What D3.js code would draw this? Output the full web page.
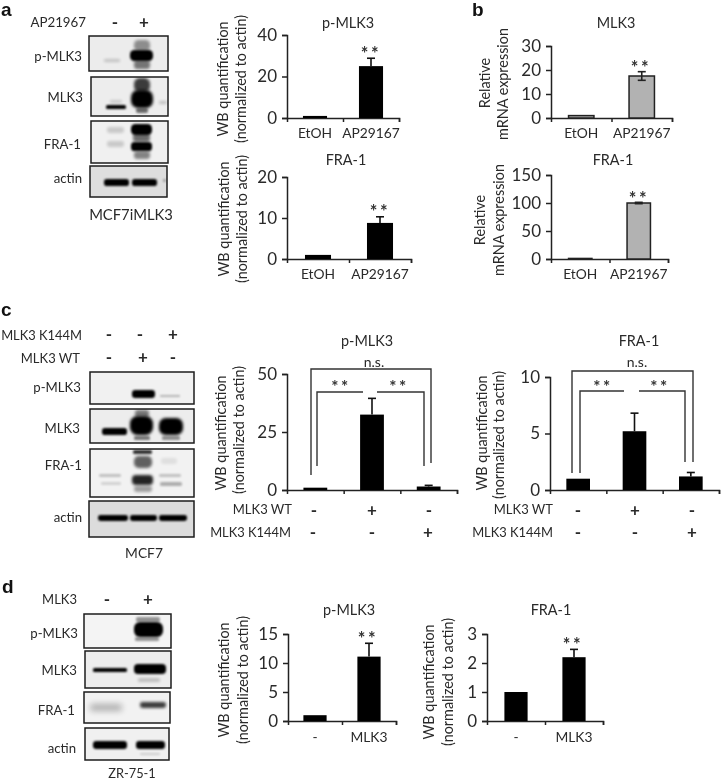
<!DOCTYPE html>
<html><head><meta charset="utf-8">
<script src="https://cdn.jsdelivr.net/npm/d3@7/dist/d3.min.js"></script>
<style>
html,body{margin:0;padding:0;background:#fff}
svg{display:block;filter:blur(.35px)}
text{font-family:Lato,"Open Sans",sans-serif;fill:#2a2a2a}
</style></head><body><svg id="c" width="721" height="780"></svg>
<script>
// ---------- data ----------
const catEtohA = ["EtOH","AP29167"];
const catEtohB = ["EtOH","AP21967"];
const catTriple = ["ctrl","WT","K144M"];
const catMlk3 = ["-","MLK3"];

const aPmlk3Values = [1,25];      const aPmlk3Err = [0,3.8];
const aFra1Values  = [1,8.8];     const aFra1Err  = [0,1.5];
const bMlk3Values  = [1,17.5];    const bMlk3Err  = [0,1.8];
const bFra1Values  = [1,100];     const bFra1Err  = [0,1.2];
const cPmlk3Values = [1,32.5,1.5];const cPmlk3Err = [0,7,0.5];
const cFra1Values  = [1,5.2,1.2]; const cFra1Err  = [0,1.6,0.35];
const dPmlk3Values = [1,11.1];    const dPmlk3Err = [0,2.3];
const dFra1Values  = [1,2.2];     const dFra1Err  = [0,0.27];

const ticksA1 = [0,20,40], ticksA2 = [0,10,20], ticksB1 = [0,10,20,30], ticksB2 = [0,50,100,150];
const ticksC1 = [0,25,50], ticksC2 = [0,5,10], ticksD1 = [0,5,10,15], ticksD2 = [0,1,2,3];

const wtSigns = ["-","+","-"];
const k144Signs = ["-","-","+"];
const wbTitle = ["WB quantification","(normalized to actin)"];
const mrnaTitle = ["Relative","mRNA expression"];

// ---------- layout ----------
const svg = d3.select("#c");
const defs = svg.append("defs");
[["b1",1.0],["b2",1.8],["b3",3]].forEach(([id,s])=>{
  defs.append("filter").attr("id",id).attr("x","-40%").attr("y","-100%").attr("width","180%").attr("height","300%")
    .append("feGaussianBlur").attr("stdDeviation",s);
});
function txt(x,y,s,size,anchor="middle",extra={}){
  const t = svg.append("text").attr("x",x).attr("y",y).attr("font-size",size).attr("text-anchor",anchor).text(s);
  Object.entries(extra).forEach(([k,v])=>t.attr(k,v));
  return t;
}
function stars(x,y,size){
  txt(x,y,"**",size,"middle",{"letter-spacing":"2.5px","font-weight":"700"}).style("fill","#333");
}
function vtxt(x,y,s,size){
  svg.append("text").attr("transform",`translate(${x},${y}) rotate(-90)`).attr("font-size",size)
    .attr("text-anchor","middle").attr("dominant-baseline","central").text(s);
}
function barChart(o){
  const g = svg.append("g");
  const y = d3.scaleLinear().domain(o.domain).range([o.y0,o.y1]);
  const n = o.cats.length;
  const xb = d3.scaleBand().domain(o.cats).range([o.x0,o.x1]).paddingInner(o.pad).paddingOuter(o.pad/2);
  const xt = d3.scaleLinear().domain([0,n]).range([o.x0,o.x1]);
  const ax = g.append("g").attr("transform",`translate(${o.x0},0)`)
    .call(d3.axisLeft(y).tickValues(o.ticks).tickFormat(d3.format("d")).tickSizeOuter(0).tickSize(5).tickPadding(5));
  ax.selectAll("text").attr("font-size",o.tickSize||17).style("font-family","Lato,sans-serif").style("fill","#2a2a2a");
  g.append("g").attr("transform",`translate(0,${o.y0})`)
    .call(d3.axisBottom(xt).tickValues(d3.range(1,n+1)).tickSizeOuter(0).tickSize(4).tickFormat(""));
  g.selectAll(".domain,.tick line").attr("stroke","#222").attr("stroke-width",1.5);
  const gray = !!o.gray;
  g.selectAll("rect.bar").data(o.values).join("rect").attr("class","bar")
    .attr("x",(d,i)=>xb(o.cats[i])).attr("width",xb.bandwidth())
    .attr("y",d=>y(d)).attr("height",d=>Math.max(0,y(0)-y(d)))
    .attr("fill",gray?"#b2b2b2":"#000").attr("stroke",gray?"#222":"none").attr("stroke-width",1.5);
  o.errs.forEach((e,i)=>{
    if(!e) return;
    const cx = xb(o.cats[i])+xb.bandwidth()/2, cap=4;
    const v=o.values[i];
    const lo = o.both? y(v-e):y(v);
    g.append("line").attr("x1",cx).attr("x2",cx).attr("y1",lo).attr("y2",y(v+e)).attr("stroke",gray?"#222":"#111").attr("stroke-width",1.6);
    g.append("line").attr("x1",cx-cap).attr("x2",cx+cap).attr("y1",y(v+e)).attr("y2",y(v+e)).attr("stroke",gray?"#222":"#111").attr("stroke-width",1.6);
    if(o.both) g.append("line").attr("x1",cx-cap).attr("x2",cx+cap).attr("y1",lo).attr("y2",lo).attr("stroke","#222").attr("stroke-width",1.6);
  });
  if(o.labels) o.labels.forEach((s,i)=>txt(xb(o.cats[i])+xb.bandwidth()/2,o.labelY,s,13.8));
  if(o.title) txt(o.title[1],o.title[2],o.title[0],14.4);
  if(o.star) stars(o.star[0],o.star[1],18);
  const tt=o.yTitle;
  vtxt(tt.x[0],tt.y[0],tt.s[0],tt.size||14.4);
  vtxt(tt.x[1],tt.y[1],tt.s[1],tt.size||14.4);
  return {xb,y};
}
// Panel a
barChart({cats:catEtohA,values:aPmlk3Values,errs:aPmlk3Err,domain:[0,40],ticks:ticksA1,x0:287,x1:399,y0:118,y1:35,pad:.57,
  labels:catEtohA,labelY:138,title:["p-MLK3",348,28],star:[371,60],yTitle:{s:wbTitle,x:[222,240],y:[79,79]}});
barChart({cats:catEtohA,values:aFra1Values,errs:aFra1Err,domain:[0,20],ticks:ticksA2,x0:287,x1:411,y0:259,y1:177,pad:.58,
  labels:catEtohA,labelY:279,title:["FRA-1",346,165],star:[380,218],yTitle:{s:wbTitle,x:[223,241],y:[219,219]}});
// Panel b
barChart({cats:catEtohB,values:bMlk3Values,errs:bMlk3Err,both:true,gray:true,domain:[0,30],ticks:ticksB1,x0:551,x1:672,y0:118,y1:46,pad:.58,
  labels:catEtohB,labelY:138,title:["MLK3",616,28],star:[641,74],yTitle:{s:mrnaTitle,x:[484,502],y:[83,84]}});
barChart({cats:catEtohB,values:bFra1Values,errs:bFra1Err,both:true,gray:true,domain:[0,150],ticks:ticksB2,x0:551,x1:668,y0:259,y1:175,pad:.6,
  labels:catEtohB,labelY:279,title:["FRA-1",613,165],star:[639,205],yTitle:{s:mrnaTitle,x:[479,498],y:[220,220]}});
// Panel c
function signs(xs,y,arr){arr.forEach((s,i)=>txt(xs(i),y,s,17,"middle",{"font-weight":"700"}));}
barChart({cats:catTriple,values:cPmlk3Values,errs:cPmlk3Err,domain:[0,50],ticks:ticksC1,x0:287,x1:457,y0:490,y1:374,pad:.58,
  title:["p-MLK3",367,346],yTitle:{s:wbTitle,x:[220,238],y:[433,430]}});
barChart({cats:catTriple,values:cFra1Values,errs:cFra1Err,domain:[0,10],ticks:ticksC2,x0:550,x1:719,y0:490,y1:377,pad:.58,
  title:["FRA-1",639,346],yTitle:{s:wbTitle,x:[481,498],y:[433,435]}});
function bracket(pts){svg.append("path").attr("d",d3.line()(pts)).attr("fill","none").attr("stroke","#333").attr("stroke-width",1.4);}
bracket([[311,475],[311,369],[431,369],[431,463]]);
bracket([[317,466],[317,392],[363,392]]);
bracket([[377,392],[424,392],[424,466]]);
txt(374,367,"n.s.",14);stars(341,393,17);stars(399,393,17);
bracket([[572,473],[572,371],[693,371],[693,462]]);
bracket([[580,473],[580,391],[624,391]]);
bracket([[639,391],[685,391],[685,462]]);
txt(637,367,"n.s.",14);stars(603,393,17);stars(660,393,17);
txt(292,514,"MLK3 WT",13,"end");txt(291,537,"MLK3 K144M",12.9,"end");
txt(553,514,"MLK3 WT",13,"end");txt(553,537,"MLK3 K144M",12.9,"end");
signs(i=>[314,372,429][i],516,wtSigns);signs(i=>[313,372,428][i],538,k144Signs);
signs(i=>[578,635,692][i],516,wtSigns);signs(i=>[578,635,692][i],538,k144Signs);
// Panel d
barChart({cats:catMlk3,values:dPmlk3Values,errs:dPmlk3Err,domain:[0,15],ticks:ticksD1,x0:288,x1:396,y0:721,y1:634,pad:.57,
  labels:catMlk3,labelY:742,title:["p-MLK3",349,615],star:[368,645],yTitle:{s:wbTitle,x:[223,242],y:[680,680]}});
barChart({cats:catMlk3,values:dFra1Values,errs:dFra1Err,domain:[0,3],ticks:ticksD2,x0:487,x1:603,y0:721,y1:634,pad:.6,
  labels:catMlk3,labelY:742,title:["FRA-1",551,615],star:[573,651],yTitle:{s:wbTitle,x:[428,447],y:[682,682]}});
// Panel letters
[["a",1,16],["b",472,16],["c",1,316],["d",2,593]].forEach(([s,x,y])=>{
  svg.append("text").attr("x",x).attr("y",y).attr("font-size",19).attr("font-weight",700)
   .style("font-family","'Liberation Sans',sans-serif").style("fill","#111").text(s);
});

// ---------- western-blot panels (drawn as blurred bands) ----------
const blots = [
 {l:"p-MLK3",lx:82,ly:61,box:[89,36,168,71],bg:"#ececec",bands:[[134,40,16,11,.4,2],[130,50,23,11,1,1],[134,60,16,9,.5,2],[104,59,16,3,.18,2]]},
 {l:"MLK3",lx:83,ly:102,box:[91,77,168,116],bg:"#ededed",bands:[[134,78,16,14,.75,2],[131,90,22,18,1,2],[106,105,20,4,1,1],[136,108,12,5,.55,1],[159,101,8,3,.2,2],[110,100,12,3,.15,2]]},
 {l:"FRA-1",lx:81,ly:149,box:[91,121,168,163],bg:"#f0f0f0",bands:[[131,124,21,11,1,1],[133,133,17,9,.55,2],[131,142,21,9,1,1],[134,151,16,8,.45,2],[107,127,17,6,.16,2],[107,141,17,6,.16,2]]},
 {l:"actin",lx:82,ly:183,box:[90,166,167,197],bg:"#dedede",bands:[[104,179,25,7,1,1],[132,179,25,7,1,1],[163,179,3,3,.3,1]]},

 {l:"p-MLK3",lx:81,ly:392,box:[90,372,194,404],bg:"#f1f1f1",bands:[[132,390,23,8,1,1],[160,395,20,2,.25,1]]},
 {l:"MLK3",lx:80,ly:433,box:[90,409,194,443],bg:"#ededed",bands:[[102,428,25,7,1,1],[130,416,23,19,1,1.5],[159,418,24,17,1,1.5],[134,436,16,4,.5,1],[162,436,18,4,.4,1],[135,410,14,7,.5,1.5]]},
 {l:"FRA-1",lx:82,ly:470,box:[90,449,194,497],bg:"#f2f2f2",bands:[[133,450,19,4,.8,1],[134,456,18,12,.6,2],[132,475,21,10,.85,2],[99,474,22,3,.2,1],[101,482,20,3,.13,1],[159,474,22,3,.2,1],[160,482,22,4,.28,1],[134,486,18,6,.35,2],[161,458,16,6,.08,2]]},
 {l:"actin",lx:82,ly:522,box:[89,501,194,537],bg:"#dcdcdc",bands:[[98,515,30,6,1,1],[130,515,27,6,1,1],[159,515,28,6,1,1]]},

 {l:"p-MLK3",lx:78,ly:638,box:[84,614,171,648],bg:"#f4f4f4",bands:[[134,622,29,15,1,1.2],[136,617,24,5,.4,1],[135,637,24,4,.4,1]]},
 {l:"MLK3",lx:77,ly:675,box:[85,651,171,688],bg:"#ededed",bands:[[93,668,34,4,1,1],[134,664,32,10,1,1],[138,678,22,4,.2,1.5]]},
 {l:"FRA-1",lx:75,ly:715,box:[84,692,170,723],bg:"#f2f2f2",bands:[[90,704,32,7,.28,2.4],[140,702,26,6,.75,1.6]]},
 {l:"actin",lx:76,ly:753,box:[85,728,169,760],bg:"#f0f0f0",bands:[[93,741,34,8,1,1],[136,741,29,8,1,1],[140,753,20,2,.15,1]]}
];
const cellLines=[[131,220,"MCF7iMLK3",14.8],[144,558,"MCF7",13.8],[132,778,"ZR-75-1",12.8]];
blots.forEach((b,i)=>{
  const [x0,y0,x1,y1]=b.box;
  const cid="clip"+i;
  defs.append("clipPath").attr("id",cid).append("rect").attr("x",x0).attr("y",y0).attr("width",x1-x0).attr("height",y1-y0);
  const g=svg.append("g").attr("clip-path",`url(#${cid})`);
  g.append("rect").attr("x",x0).attr("y",y0).attr("width",x1-x0).attr("height",y1-y0).attr("fill",b.bg);
  g.selectAll("rect.band").data(b.bands).join("rect").attr("class","band")
    .attr("x",d=>d[0]).attr("y",d=>d[1]).attr("width",d=>d[2]).attr("height",d=>d[3])
    .attr("rx",d=>d[3]*.4).attr("fill","#050505").attr("opacity",d=>d[4])
    .attr("filter",d=>d[5]<1.3?"url(#b1)":d[5]<2.4?"url(#b2)":"url(#b3)");
  svg.append("rect").attr("x",x0).attr("y",y0).attr("width",x1-x0).attr("height",y1-y0)
    .attr("fill","none").attr("stroke","#1c1c1c").attr("stroke-width",1.5);
  txt(b.lx,b.ly,b.l,13.2,"end");
});
cellLines.forEach(([x,y,s,f])=>txt(x,y,s,f));
// treatment rows above blots
txt(86,27,"AP21967",13.3,"end");
txt(115,28,"-",17,"middle",{"font-weight":"700"});txt(144,28,"+",17,"middle",{"font-weight":"700"});
txt(82,340,"MLK3 K144M",12.9,"end");txt(80,363,"MLK3 WT",13,"end");
signs(i=>[109,140,173][i],340,k144Signs);signs(i=>[109,143,173][i],363,wtSigns);
txt(77,604,"MLK3",13,"end");
txt(107,605,"-",17,"middle",{"font-weight":"700"});txt(148,605,"+",17,"middle",{"font-weight":"700"});
</script></body></html>
